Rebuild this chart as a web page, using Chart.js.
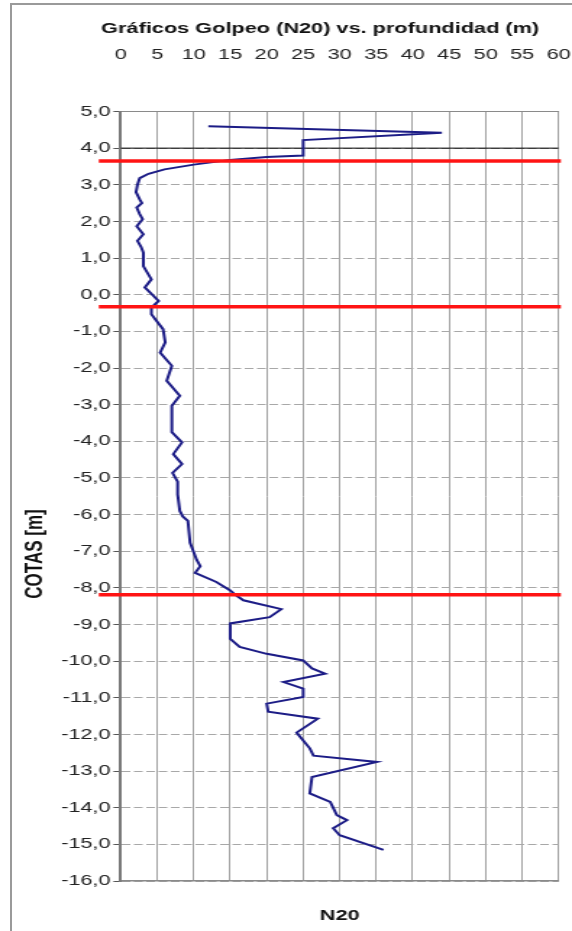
<!DOCTYPE html>
<html>
<head>
<meta charset="utf-8">
<script src="https://cdn.jsdelivr.net/npm/chart.js@4"></script>
<style>
  html, body { margin: 0; padding: 0; background: #fff; overflow: hidden; }
  #marco { position: absolute; left: 10px; top: 3px; width: 640px; height: 980px; border: 2px solid #9a9a9a; }
  #lienzo { position: absolute; left: 0; top: 0; width: 395px; height: 931px; transform: scaleX(1.4481); transform-origin: 0 0; }
</style>
</head>
<body>
<div id="marco"></div>
<div id="lienzo"><canvas id="myChart"></canvas></div>
<script>
// Ensayo de penetración: golpeo N20 frente a cota (m)
const cotas = [4.60, 4.42, 4.22, 3.80, 3.76, 3.68, 3.55, 3.42, 3.30, 3.18, 3.00, 2.80, 2.60, 2.50, 2.38, 2.20,
  2.06, 1.87, 1.65, 1.47, 1.30, 1.15, 0.78, 0.42, 0.20, -0.17, -0.35, -0.53, -0.94, -1.30, -1.58, -1.94,
  -2.35, -2.76, -3.03, -3.75, -4.03, -4.35, -4.62, -4.86, -5.10, -5.45, -5.90, -6.05, -6.17, -6.77,
  -7.23, -7.41, -7.59, -7.84, -8.07, -8.19, -8.34, -8.58, -8.80, -8.97, -9.39, -9.61, -9.80, -9.98,
  -10.20, -10.34, -10.57, -10.75, -10.98, -11.16, -11.38, -11.57, -11.95, -12.38, -12.58, -12.75,
  -13.16, -13.61, -13.84, -14.20, -14.34, -14.56, -14.75, -15.15];
const n20 = [12, 44, 25, 25, 20, 15, 10, 6, 3.8, 2.6, 2.3, 2.1, 2.6, 2.9, 2.2, 2.6,
  3.0, 2.2, 3.1, 2.3, 2.8, 3.1, 3.1, 4.2, 3.3, 5.2, 4.2, 4.2, 5.8, 6.1, 5.4, 7.0,
  6.3, 8.1, 7.0, 7.0, 8.4, 7.2, 8.4, 7.1, 7.8, 7.8, 8.1, 8.5, 9.2, 9.5,
  10.4, 10.9, 10.2, 13.1, 15.0, 15.7, 16.8, 22.0, 20.4, 15.0, 15.0, 16.3, 20.0, 25.0,
  26.2, 28.0, 22.3, 25.0, 25.0, 20.0, 20.2, 27.0, 24.1, 25.9, 26.4, 35.1,
  26.2, 25.9, 28.7, 29.6, 31.0, 29.1, 30.0, 36.0];

// Cota de boca y límites entre estratos
const cotaBoca = 4.0;
const limitesEstratos = [3.65, -0.33, -8.19];
const ticksX = { min: 0, max: 60, paso: 5 };
const ticksY = { min: -16, max: 5, paso: 1 };

const fuente = '"Liberation Sans", Arial, sans-serif';

function formatoCota(v) {
  return v.toFixed(1).replace('.', ',');
}

// Título general y rótulo del eje Y, colocados como en el original
const rotulos = {
  id: 'rotulos',
  afterDraw(chart) {
    const { ctx, chartArea } = chart;
    ctx.save();
    ctx.fillStyle = '#111';
    ctx.textAlign = 'center';
    ctx.textBaseline = 'middle';
    ctx.font = 'bold 15px ' + fuente;
    ctx.fillText('Gráficos Golpeo (N20) vs. profundidad (m)', (chartArea.left + chartArea.right) / 2 - 13.5, 29);
    ctx.translate(chartArea.left - 59, 554);
    ctx.rotate(-Math.PI / 2);
    ctx.font = 'bold 17px ' + fuente;
    ctx.fillText('COTAS [m]', 0, 0);
    ctx.restore();
  }
};

const datasets = [{
  label: 'N20',
  data: n20.map((v, i) => ({ x: v, y: cotas[i] })),
  showLine: true,
  borderColor: '#1c1c86',
  borderWidth: 2,
  pointRadius: 0,
  order: 1
}, {
  label: 'Boca',
  data: [{ x: ticksX.min, y: cotaBoca }, { x: ticksX.max, y: cotaBoca }],
  showLine: true,
  borderColor: '#000',
  borderWidth: 1,
  pointRadius: 0,
  order: 3
}];

limitesEstratos.forEach(c => {
  datasets.push({
    label: 'Límite',
    data: [{ x: -3, y: c }, { x: 60.3, y: c }],
    showLine: true,
    borderColor: '#ff1414',
    borderWidth: 3.5,
    pointRadius: 0,
    clip: false,
    order: 0
  });
});

Chart.defaults.font.family = fuente;

new Chart(document.getElementById('myChart').getContext('2d'), {
  type: 'scatter',
  data: { datasets },
  plugins: [rotulos],
  options: {
    responsive: true,
    maintainAspectRatio: false,
    animation: false,
    layout: { padding: { left: 0, right: 9.2, top: 38, bottom: 0 } },
    plugins: {
      legend: { display: false },
      tooltip: { enabled: false },
      title: { display: false }
    },
    scales: {
      x: {
        type: 'linear',
        position: 'top',
        min: ticksX.min,
        max: ticksX.max,
        ticks: { stepSize: ticksX.paso, padding: 47.5, color: '#222', font: { size: 15 }, maxRotation: 0, autoSkip: false },
        grid: { color: '#a2a2a2', lineWidth: 1, drawTicks: false },
        border: { color: '#8a8a8a', width: 1 },
        afterFit: s => { s.height = 73.5; s.paddingLeft = 4; s.paddingRight = 8; }
      },
      x2: {
        type: 'linear',
        position: 'bottom',
        min: ticksX.min,
        max: ticksX.max,
        ticks: { display: false },
        grid: { display: false, drawTicks: false },
        border: { color: '#8a8a8a', width: 1.5 },
        title: { display: true, text: 'N20', color: '#111', font: { size: 15, weight: 'bold' }, padding: { top: 0, bottom: 6 } },
        afterFit: s => { s.height = 50; s.paddingLeft = 0; s.paddingRight = 0; }
      },
      y: {
        type: 'linear',
        min: ticksY.min,
        max: ticksY.max,
        ticks: { stepSize: ticksY.paso, padding: 2, color: '#222', font: { size: 15 }, autoSkip: false, callback: formatoCota },
        grid: { color: '#a8a8a8', lineWidth: 1, tickLength: 5, tickColor: '#555' },
        border: { color: '#7a7a7a', width: 2, dash: [6, 2.5] },
        afterFit: s => { s.width = 83.35; }
      }
    }
  }
});
</script>
</body>
</html>
